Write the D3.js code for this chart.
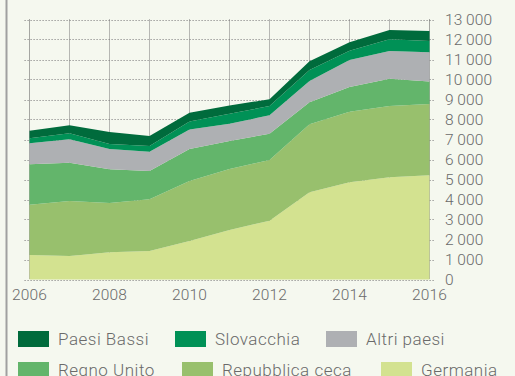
<!DOCTYPE html>
<html>
<head>
<meta charset="utf-8">
<script src="https://cdn.jsdelivr.net/npm/d3@7"></script>
<style>
  html, body { margin: 0; padding: 0; background: #f5f8ef; }
  svg { display: block; }
  text { font-family: Roboto, "Liberation Sans", sans-serif; font-weight: 300; fill: #6a6a6a; }
</style>
</head>
<body>
<svg id="chart" width="515" height="376"></svg>
<script>
// Years on the x axis
const years = [2006, 2007, 2008, 2009, 2010, 2011, 2012, 2013, 2014, 2015, 2016];

// Series values, bottom of the stack first
const germania        = [1220, 1170, 1360, 1420, 1920, 2470, 2940, 4360, 4860, 5110, 5210];
const repubblicaCeca  = [2520, 2755, 2465, 2590, 3000, 3050, 3035, 3400, 3530, 3565, 3565];
const regnoUnito      = [2020, 1915, 1685, 1415, 1600, 1400, 1315, 1100, 1235, 1365, 1120];
const altriPaesi      = [1050, 1170, 1015,  965,  985,  865,  920, 1070, 1350, 1385, 1465];
const slovacchia      = [ 250,  300,  250,  285,  400,  500,  465,  550,  465,  585,  565];
const paesiBassi      = [ 380,  400,  600,  500,  430,  420,  335,  435,  420,  465,  500];

const seriesNames  = ["Germania", "Repubblica ceca", "Regno Unito", "Altri paesi", "Slovacchia", "Paesi Bassi"];
const seriesValues = [germania, repubblicaCeca, regnoUnito, altriPaesi, slovacchia, paesiBassi];
const seriesColors = ["#d3e290", "#98c06d", "#63b56b", "#aeb0b3", "#009156", "#006b3c"];

// Tick labels
const yTicks = [0, 1000, 2000, 3000, 4000, 5000, 6000, 7000, 8000, 9000, 10000, 11000, 12000, 13000];
const xTicks = [2006, 2008, 2010, 2012, 2014, 2016];

// Legend rows (top row first)
const legendRows = [
  ["Paesi Bassi", "Slovacchia", "Altri paesi"],
  ["Regno Unito", "Repubblica ceca", "Germania"]
];

const svg = d3.select("#chart");
const W = 515, H = 376;
const m = { left: 29.5, right: 429.5, top: 19.5, bottom: 279.5 };

const x = d3.scaleLinear().domain([2006, 2016]).range([m.left, m.right]);
const y = d3.scaleLinear().domain([0, 13000]).range([m.bottom, m.top]);

// Left rule
svg.append("line")
  .attr("x1", 6.5).attr("x2", 6.5).attr("y1", 0).attr("y2", H)
  .attr("stroke", "#a0a0a0").attr("stroke-width", 2);

// Grid
const grid = svg.append("g");
grid.selectAll("line.h").data(yTicks).join("line")
  .attr("class", "h")
  .attr("x1", m.left - 5).attr("x2", m.right + 6)
  .attr("y1", d => Math.round(y(d)) + 0.5).attr("y2", d => Math.round(y(d)) + 0.5)
  .attr("stroke", "#8a8a8a").attr("stroke-width", 1)
  .attr("stroke-dasharray", "1.2,1.8");
grid.selectAll("line.v").data(years).join("line")
  .attr("class", "v")
  .attr("x1", d => x(d)).attr("x2", d => x(d))
  .attr("y1", m.top).attr("y2", m.bottom)
  .attr("stroke", d => (d === 2006 || d === 2016) ? "#555" : "#777").attr("stroke-width", 1)
  .attr("stroke-dasharray", "1,1");

// Stacked areas
const table = years.map((yr, i) => {
  const row = { year: yr };
  seriesNames.forEach((n, k) => { row[n] = seriesValues[k][i]; });
  return row;
});
const stacked = d3.stack().keys(seriesNames)(table);
const area = d3.area()
  .x(d => x(d.data.year))
  .y0(d => y(d[0]))
  .y1(d => y(d[1]));

svg.append("g").selectAll("path").data(stacked).join("path")
  .attr("d", area)
  .attr("fill", (d, i) => seriesColors[i]);

// Right axis labels
svg.append("g").selectAll("text").data(yTicks).join("text")
  .attr("x", 445)
  .attr("y", d => y(d))
  .attr("dy", "0.36em")
  .attr("font-size", 15.5)
  .attr("letter-spacing", 0.2)
  .text(d => d3.format(",")(d).replace(",", "\u2009"));

// Bottom axis labels
svg.append("g").selectAll("text").data(xTicks).join("text")
  .attr("x", d => x(d))
  .attr("y", 299.5)
  .attr("text-anchor", "middle")
  .attr("font-size", 15.5)
  .attr("letter-spacing", 0.2)
  .text(d => d);

// Legend
const colorOf = name => seriesColors[seriesNames.indexOf(name)];
const legendX = [[18, 175, 326], [18, 182, 381]];
const legendY = [331, 362];
legendRows.forEach((row, r) => {
  row.forEach((name, c) => {
    const g = svg.append("g").attr("transform", `translate(${legendX[r][c]},${legendY[r]})`);
    g.append("rect").attr("width", 31).attr("height", 16).attr("fill", colorOf(name));
    g.append("text").attr("x", 40).attr("y", 8).attr("dy", "0.36em")
      .attr("font-size", 17).attr("letter-spacing", 0.5).text(name);
  });
});
</script>
</body>
</html>
